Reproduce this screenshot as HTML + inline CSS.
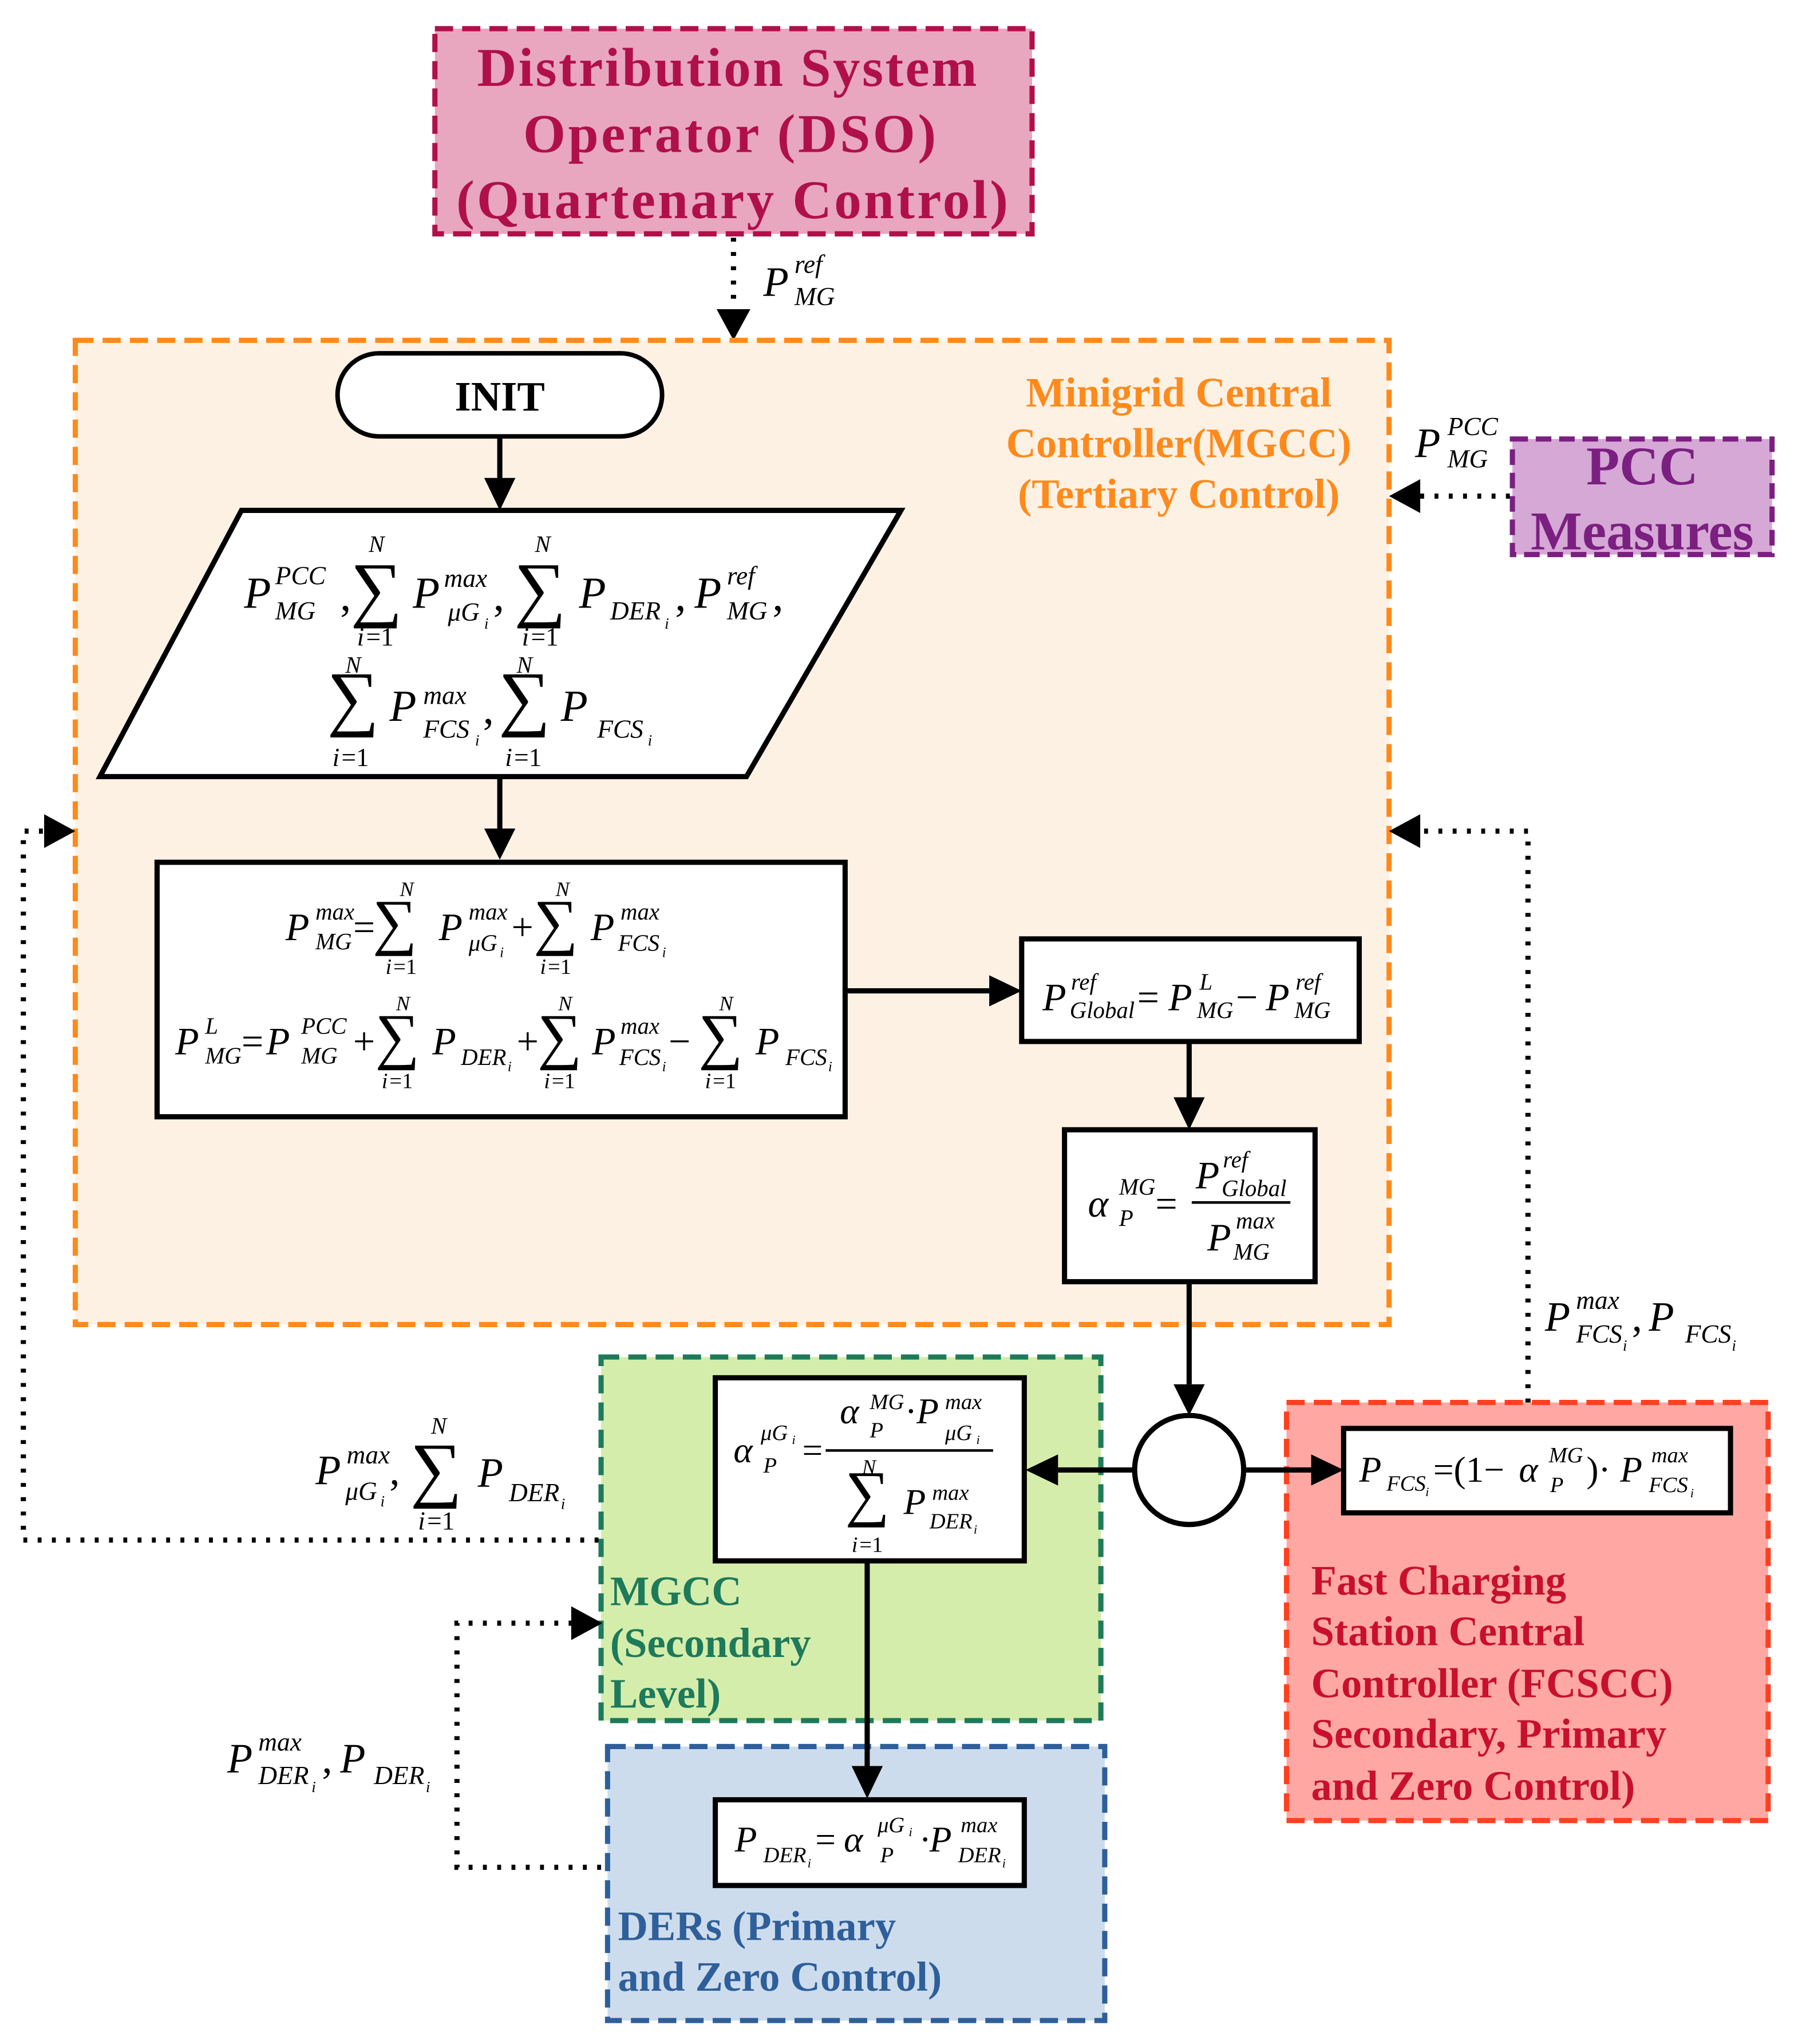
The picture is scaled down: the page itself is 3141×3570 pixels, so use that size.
<!DOCTYPE html>
<html><head><meta charset="utf-8"><style>
html,body{margin:0;padding:0;background:#fff}
svg{display:block}
.m{font-family:"Liberation Serif",serif;font-style:italic;fill:#000}
.u{font-family:"Liberation Serif",serif;font-style:normal;fill:#000}
.b{font-family:"Liberation Serif",serif;font-weight:bold}
</style></head><body>
<svg width="3141" height="3570" viewBox="0 0 1385 1574" xmlns="http://www.w3.org/2000/svg">
<!-- DSO -->
<rect x="335" y="22" width="460" height="158" fill="#e8a6bf" stroke="#b0104a" stroke-width="4" stroke-dasharray="14,7"/>
<g class="b" fill="#b0104a" font-size="42" text-anchor="middle">
<text x="560" y="66" textLength="385">Distribution System</text>
<text x="562" y="117" textLength="318">Operator (DSO)</text>
<text x="564" y="168" textLength="425">(Quartenary Control)</text>
</g>
<line x1="565" y1="183" x2="565" y2="238" stroke="#000" stroke-width="4" stroke-dasharray="3,8"/>
<path d="M552,238L578,238L565,262z"/>
<text class="m" x="588" y="228" font-size="32">P</text><text class="m" x="612" y="210" font-size="20">ref</text><text class="m" x="612" y="235" font-size="20">MG</text>

<!-- MGCC orange -->
<rect x="58" y="262" width="1012" height="758" fill="#fdf1e4" stroke="#ff8a1c" stroke-width="4" stroke-dasharray="14,7"/>
<g class="b" fill="#ff8a1c" font-size="32" text-anchor="middle">
<text x="908" y="313">Minigrid Central</text>
<text x="908" y="352">Controller(MGCC)</text>
<text x="908" y="391">(Tertiary Control)</text>
</g>
<!-- PCC -->
<rect x="1165" y="338" width="200" height="89" fill="#d5a8d6" stroke="#7b1f80" stroke-width="4" stroke-dasharray="12,6"/>
<g class="b" fill="#7b1f80" font-size="42" text-anchor="middle"><text x="1265" y="373">PCC</text><text x="1265" y="423">Measures</text></g>
<line x1="1163" y1="382" x2="1094" y2="382" stroke="#000" stroke-width="4" stroke-dasharray="3,8"/>
<path d="M1094,369L1094,395L1070,382z"/>
<text class="m" x="1090" y="352" font-size="32">P</text><text class="m" x="1115" y="335" font-size="20">PCC</text><text class="m" x="1115" y="360" font-size="20">MG</text>

<!-- INIT -->
<rect x="260" y="272" width="250" height="64" rx="32" fill="#fff" stroke="#000" stroke-width="3.5"/>
<text class="b" x="385" y="316" font-size="32" text-anchor="middle">INIT</text>
<line x1="385" y1="336" x2="385" y2="370" stroke="#000" stroke-width="4"/><path d="M373,368L397,368L385,393z"/>

<!-- parallelogram -->
<path d="M186,393L694,393L575,598L77,598z" fill="#fff" stroke="#000" stroke-width="4"/>
<g font-size="34">
<text class="m" x="188" y="468">P</text><text class="m" x="212" y="450" font-size="20">PCC</text><text class="m" x="212" y="477" font-size="20">MG</text>
<text class="u" x="262" y="470">,</text>
<text class="u" x="270" y="472" font-size="56">∑</text><text class="m" x="284" y="425" font-size="18">N</text><text class="m" x="275" y="497" font-size="20">i</text><text class="u" x="282" y="497" font-size="20">=1</text>
<text class="m" x="318" y="468">P</text><text class="m" x="342" y="452" font-size="20">max</text><text class="m" x="345" y="478" font-size="20">μG</text><text class="m" x="373" y="484" font-size="12">i</text>
<text class="u" x="380" y="470">,</text>
<text class="u" x="396" y="472" font-size="56">∑</text><text class="m" x="412" y="425" font-size="18">N</text><text class="m" x="402" y="497" font-size="20">i</text><text class="u" x="409" y="497" font-size="20">=1</text>
<text class="m" x="446" y="468">P</text><text class="m" x="470" y="477" font-size="20">DER</text><text class="m" x="512" y="484" font-size="12">i</text>
<text class="u" x="520" y="470">,</text>
<text class="m" x="535" y="468">P</text><text class="m" x="560" y="450" font-size="20">ref</text><text class="m" x="560" y="477" font-size="20">MG</text><text class="u" x="595" y="470">,</text>
<text class="u" x="252" y="556" font-size="56">∑</text><text class="m" x="266" y="518" font-size="18">N</text><text class="m" x="256" y="590" font-size="20">i</text><text class="u" x="263" y="590" font-size="20">=1</text>
<text class="m" x="300" y="555">P</text><text class="m" x="326" y="542" font-size="20">max</text><text class="m" x="326" y="568" font-size="20">FCS</text><text class="m" x="366" y="574" font-size="12">i</text>
<text class="u" x="372" y="557">,</text>
<text class="u" x="384" y="556" font-size="56">∑</text><text class="m" x="398" y="518" font-size="18">N</text><text class="m" x="389" y="590" font-size="20">i</text><text class="u" x="396" y="590" font-size="20">=1</text>
<text class="m" x="432" y="555">P</text><text class="m" x="460" y="568" font-size="20">FCS</text><text class="m" x="499" y="574" font-size="12">i</text>
</g>
<line x1="385" y1="598" x2="385" y2="640" stroke="#000" stroke-width="4"/><path d="M373,638L397,638L385,662z"/>

<!-- big rect -->
<rect x="121" y="664" width="530" height="196" fill="#fff" stroke="#000" stroke-width="4"/>
<g font-size="30">
<text class="m" x="220" y="724">P</text><text class="m" x="243" y="708" font-size="18">max</text><text class="m" x="243" y="731" font-size="18">MG</text>
<text class="u" x="272" y="724">=</text>
<text class="u" x="287" y="726" font-size="48">∑</text><text class="m" x="308" y="690" font-size="16">N</text><text class="m" x="297" y="750" font-size="17">i</text><text class="u" x="303" y="750" font-size="17">=1</text>
<text class="m" x="338" y="724">P</text><text class="m" x="361" y="708" font-size="18">max</text><text class="m" x="361" y="732" font-size="18">μG</text><text class="m" x="385" y="737" font-size="11">i</text>
<text class="u" x="394" y="724">+</text>
<text class="u" x="411" y="726" font-size="48">∑</text><text class="m" x="428" y="690" font-size="16">N</text><text class="m" x="416" y="750" font-size="17">i</text><text class="u" x="422" y="750" font-size="17">=1</text>
<text class="m" x="455" y="724">P</text><text class="m" x="478" y="708" font-size="18">max</text><text class="m" x="476" y="732" font-size="18">FCS</text><text class="m" x="510" y="737" font-size="11">i</text>

<text class="m" x="135" y="812">P</text><text class="m" x="158" y="796" font-size="18">L</text><text class="m" x="158" y="819" font-size="18">MG</text>
<text class="u" x="186" y="812">=</text>
<text class="m" x="205" y="812">P</text><text class="m" x="232" y="796" font-size="18">PCC</text><text class="m" x="232" y="819" font-size="18">MG</text>
<text class="u" x="272" y="812">+</text>
<text class="u" x="289" y="814" font-size="48">∑</text><text class="m" x="305" y="778" font-size="16">N</text><text class="m" x="294" y="838" font-size="17">i</text><text class="u" x="300" y="838" font-size="17">=1</text>
<text class="m" x="333" y="812">P</text><text class="m" x="355" y="820" font-size="18">DER</text><text class="m" x="391" y="825" font-size="11">i</text>
<text class="u" x="398" y="812">+</text>
<text class="u" x="414" y="814" font-size="48">∑</text><text class="m" x="430" y="778" font-size="16">N</text><text class="m" x="419" y="838" font-size="17">i</text><text class="u" x="425" y="838" font-size="17">=1</text>
<text class="m" x="456" y="812">P</text><text class="m" x="478" y="796" font-size="18">max</text><text class="m" x="477" y="820" font-size="18">FCS</text><text class="m" x="510" y="825" font-size="11">i</text>
<text class="u" x="515" y="812">−</text>
<text class="u" x="538" y="814" font-size="48">∑</text><text class="m" x="554" y="778" font-size="16">N</text><text class="m" x="543" y="838" font-size="17">i</text><text class="u" x="549" y="838" font-size="17">=1</text>
<text class="m" x="582" y="812">P</text><text class="m" x="605" y="820" font-size="18">FCS</text><text class="m" x="638" y="825" font-size="11">i</text>
</g>
<line x1="651" y1="763" x2="762" y2="763" stroke="#000" stroke-width="4"/><path d="M762,751L762,775L787,763z"/>

<!-- Global rect -->
<rect x="787" y="723" width="260" height="79" fill="#fff" stroke="#000" stroke-width="4"/>
<g font-size="30">
<text class="m" x="803" y="778">P</text><text class="m" x="825" y="762" font-size="18">ref</text><text class="m" x="824" y="784" font-size="18">Global</text>
<text class="u" x="876" y="778">=</text>
<text class="m" x="900" y="778">P</text><text class="m" x="924" y="762" font-size="18">L</text><text class="m" x="922" y="784" font-size="18">MG</text>
<text class="u" x="952" y="778">−</text>
<text class="m" x="975" y="778">P</text><text class="m" x="998" y="762" font-size="18">ref</text><text class="m" x="997" y="784" font-size="18">MG</text>
</g>
<line x1="916" y1="802" x2="916" y2="846" stroke="#000" stroke-width="4"/><path d="M904,845L928,845L916,870z"/>

<!-- alpha rect -->
<rect x="820" y="870" width="193" height="117" fill="#fff" stroke="#000" stroke-width="4"/>
<g font-size="30">
<text class="m" x="838" y="937">α</text><text class="m" x="862" y="920" font-size="18">MG</text><text class="m" x="862" y="944" font-size="18">P</text>
<text class="u" x="890" y="937">=</text>
<text class="m" x="921" y="915">P</text><text class="m" x="942" y="899" font-size="18">ref</text><text class="m" x="941" y="921" font-size="18">Global</text>
<line x1="918" y1="926" x2="994" y2="926" stroke="#000" stroke-width="2"/>
<text class="m" x="930" y="963">P</text><text class="m" x="952" y="946" font-size="18">max</text><text class="m" x="950" y="970" font-size="18">MG</text>
</g>
<line x1="916" y1="987" x2="916" y2="1066" stroke="#000" stroke-width="4"/><path d="M904,1066L928,1066L916,1090z"/>

<!-- green -->
<rect x="463" y="1045" width="385" height="280" fill="#d5edab" stroke="#1d7a5a" stroke-width="4" stroke-dasharray="14,7"/>
<g class="b" fill="#1d7a5a" font-size="32"><text x="470" y="1236">MGCC</text><text x="470" y="1276">(Secondary</text><text x="470" y="1315">Level)</text></g>
<rect x="551" y="1061" width="238" height="141" fill="#fff" stroke="#000" stroke-width="4"/>
<g font-size="28">
<text class="m" x="565" y="1126">α</text><text class="m" x="586" y="1109" font-size="17">μG</text><text class="m" x="610" y="1112" font-size="10">i</text><text class="m" x="588" y="1134" font-size="17">P</text>
<text class="u" x="618" y="1126">=</text>
<text class="m" x="647" y="1096">α</text><text class="m" x="670" y="1085" font-size="17">MG</text><text class="m" x="670" y="1107" font-size="17">P</text>
<text class="u" x="697" y="1096">·</text><text class="m" x="706" y="1096">P</text><text class="m" x="728" y="1085" font-size="17">max</text><text class="m" x="728" y="1109" font-size="17">μG</text><text class="m" x="752" y="1112" font-size="10">i</text>
<line x1="636" y1="1117" x2="765" y2="1117" stroke="#000" stroke-width="2"/>
<text class="m" x="664" y="1135" font-size="16">N</text>
<text class="u" x="651" y="1166" font-size="48">∑</text>
<text class="m" x="656" y="1195" font-size="17">i</text><text class="u" x="662" y="1195" font-size="17">=1</text>
<text class="m" x="696" y="1166">P</text><text class="m" x="718" y="1155" font-size="17">max</text><text class="m" x="716" y="1177" font-size="17">DER</text><text class="m" x="750" y="1181" font-size="10">i</text>
</g>

<!-- blue -->
<rect x="468" y="1345" width="383" height="211" fill="#cddcec" stroke="#2e5f9a" stroke-width="4" stroke-dasharray="14,7"/>
<g class="b" fill="#2e5f9a" font-size="32"><text x="476" y="1494">DERs (Primary</text><text x="476" y="1533">and Zero Control)</text></g>
<line x1="668" y1="1202" x2="668" y2="1362" stroke="#000" stroke-width="4"/><path d="M656,1360L680,1360L668,1385z"/>
<rect x="551" y="1386" width="238" height="66" fill="#fff" stroke="#000" stroke-width="4"/>
<g font-size="28">
<text class="m" x="566" y="1426">P</text><text class="m" x="588" y="1434" font-size="17">DER</text><text class="m" x="622" y="1438" font-size="10">i</text>
<text class="u" x="628" y="1426">=</text><text class="m" x="650" y="1426">α</text><text class="m" x="676" y="1411" font-size="17">μG</text><text class="m" x="700" y="1414" font-size="10">i</text><text class="m" x="678" y="1434" font-size="17">P</text>
<text class="u" x="708" y="1426">·</text><text class="m" x="716" y="1426">P</text><text class="m" x="740" y="1411" font-size="17">max</text><text class="m" x="738" y="1434" font-size="17">DER</text><text class="m" x="772" y="1438" font-size="10">i</text>
</g>

<!-- red -->
<rect x="991" y="1080" width="371" height="322" fill="#ffa8a3" stroke="#ff4020" stroke-width="4" stroke-dasharray="14,7"/>
<g class="b" fill="#c8102e" font-size="32">
<text x="1010" y="1228">Fast Charging</text><text x="1010" y="1267">Station Central</text><text x="1010" y="1307">Controller (FCSCC)</text><text x="1010" y="1346">Secondary, Primary</text><text x="1010" y="1386">and Zero Control)</text>
</g>
<rect x="1035" y="1100" width="298" height="65" fill="#fff" stroke="#000" stroke-width="4"/>
<g font-size="28">
<text class="m" x="1047" y="1141">P</text><text class="m" x="1068" y="1148" font-size="17">FCS</text><text class="m" x="1098" y="1152" font-size="10">i</text>
<text class="u" x="1104" y="1141">=(1−</text><text class="m" x="1170" y="1141">α</text><text class="m" x="1193" y="1126" font-size="17">MG</text><text class="m" x="1194" y="1149" font-size="17">P</text>
<text class="u" x="1222" y="1141">)·</text><text class="m" x="1248" y="1141">P</text><text class="m" x="1272" y="1126" font-size="17">max</text><text class="m" x="1270" y="1149" font-size="17">FCS</text><text class="m" x="1302" y="1153" font-size="10">i</text>
</g>

<!-- circle -->
<circle cx="916" cy="1132" r="42" fill="#fff" stroke="#000" stroke-width="4"/>
<line x1="874" y1="1132" x2="815" y2="1132" stroke="#000" stroke-width="4"/><path d="M815,1120L815,1144L790,1132z"/>
<line x1="958" y1="1132" x2="1010" y2="1132" stroke="#000" stroke-width="4"/><path d="M1010,1120L1010,1144L1035,1132z"/>

<!-- right dotted -->
<path d="M1177,1080L1177,640L1094,640" fill="none" stroke="#000" stroke-width="4" stroke-dasharray="3,8"/>
<path d="M1094,627L1094,653L1070,640z"/>
<g font-size="32">
<text class="m" x="1190" y="1025">P</text><text class="m" x="1214" y="1008" font-size="20">max</text><text class="m" x="1214" y="1034" font-size="20">FCS</text><text class="m" x="1250" y="1040" font-size="12">i</text>
<text class="u" x="1257" y="1025">,</text><text class="m" x="1270" y="1025">P</text><text class="m" x="1298" y="1034" font-size="20">FCS</text><text class="m" x="1334" y="1040" font-size="12">i</text>
</g>

<!-- left dotted -->
<path d="M461,1186L18,1186L18,640L34,640" fill="none" stroke="#000" stroke-width="4" stroke-dasharray="3,8"/>
<path d="M34,627L34,653L58,640z"/>
<g font-size="32">
<text class="m" x="243" y="1143">P</text><text class="m" x="267" y="1127" font-size="20">max</text><text class="m" x="266" y="1155" font-size="20">μG</text><text class="m" x="293" y="1160" font-size="12">i</text>
<text class="u" x="300" y="1143">,</text>
<text class="u" x="316" y="1150" font-size="56">∑</text><text class="m" x="332" y="1104" font-size="18">N</text><text class="m" x="322" y="1178" font-size="20">i</text><text class="u" x="329" y="1178" font-size="20">=1</text>
<text class="m" x="368" y="1145">P</text><text class="m" x="392" y="1156" font-size="20">DER</text><text class="m" x="432" y="1162" font-size="12">i</text>
</g>

<!-- DER dotted -->
<path d="M463,1438L352,1438L352,1250L440,1250" fill="none" stroke="#000" stroke-width="4" stroke-dasharray="3,8"/>
<path d="M440,1237L440,1263L464,1250z"/>
<g font-size="32">
<text class="m" x="175" y="1365">P</text><text class="m" x="199" y="1348" font-size="20">max</text><text class="m" x="199" y="1374" font-size="20">DER</text><text class="m" x="240" y="1380" font-size="12">i</text>
<text class="u" x="248" y="1365">,</text><text class="m" x="262" y="1365">P</text><text class="m" x="288" y="1374" font-size="20">DER</text><text class="m" x="328" y="1380" font-size="12">i</text>
</g>
</svg>
</body></html>
